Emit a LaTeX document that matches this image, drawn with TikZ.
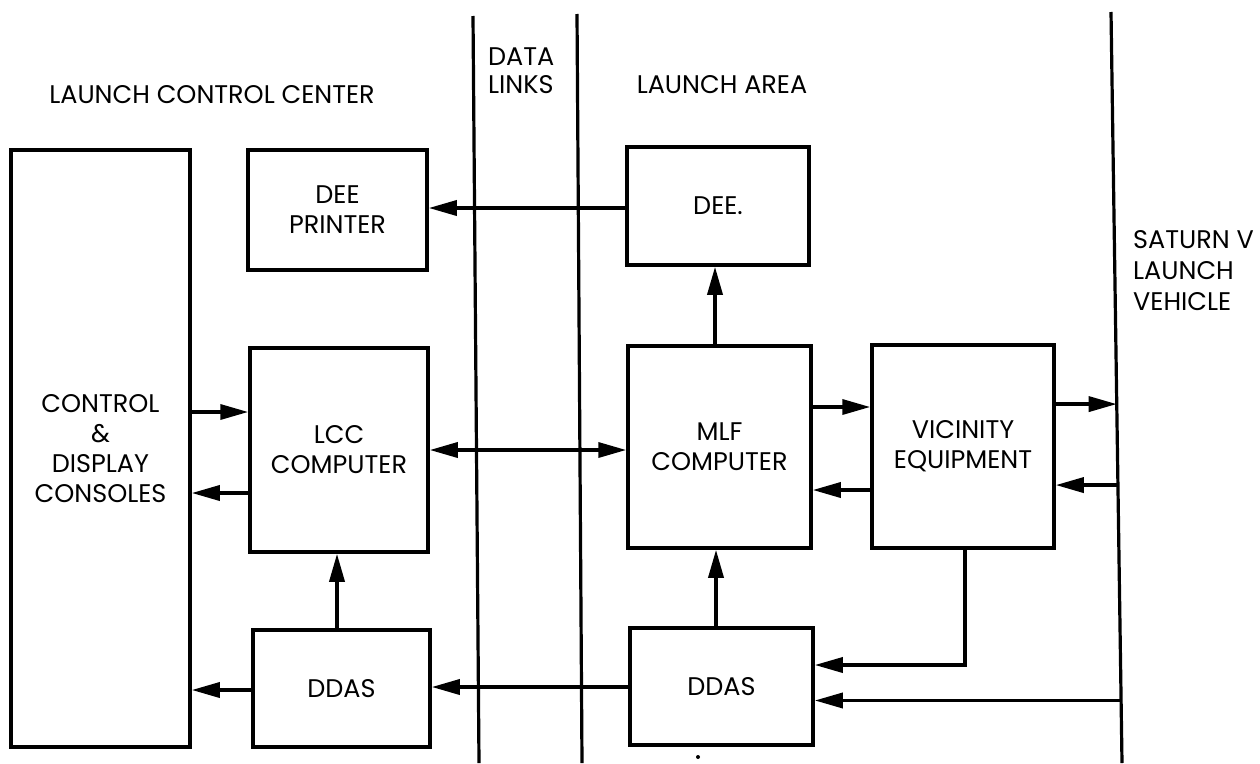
\documentclass[tikz,border=0pt]{standalone}
\usepackage{fontspec}
\setmainfont{Poppins}
\usetikzlibrary{arrows.meta,calc}
\newcommand\lbl{\fontsize{25.5}{30}\selectfont}
\begin{document}
\begin{tikzpicture}[x=1pt,y=-1pt,
  box/.style={draw, line width=3.5pt, rectangle, align=center, inner sep=0pt, font=\lbl},
  lab/.style={inner sep=0pt, align=center, font=\lbl},
  divider/.style={line width=3.2pt},
  tip/.tip={Triangle[length=28pt,width=15pt]},
  arr/.style={line width=3.5pt, -tip},
  biarr/.style={line width=3.5pt, tip-tip}]
\useasboundingbox (0,0) rectangle (1260,763);

% region dividers
\coordinate (d1T) at (473,16);  \coordinate (d1B) at (479,763);
\coordinate (d2T) at (577,14);  \coordinate (d2B) at (582,763);
\coordinate (satT) at (1111,12); \coordinate (satB) at (1122,763);
\draw[divider] (d1T) -- (d1B);
\draw[divider] (d2T) -- (d2B);
\draw[divider] (satT) -- (satB);

% headings
\node[lab] (hlcc) at (212,95) {LAUNCH CONTROL CENTER};
\node[lab, align=left, anchor=west, font=\fontsize{25.5}{28}\selectfont] (hdl) at (488,71) {DATA\\LINKS};
\node[lab] (hla) at (722,85) {LAUNCH AREA};
\node[lab, align=left, anchor=west, font=\fontsize{25.5}{31}\selectfont] (hsat) at (1133,271) {SATURN V\\LAUNCH\\VEHICLE};

% boxes
\node[box, minimum width=179pt, minimum height=597pt] (ctrl) at (100.5,448.5) {CONTROL\\\&\\DISPLAY\\CONSOLES};
\node[box, minimum width=179pt, minimum height=120pt] (deep) at (337.5,210) {DEE\\PRINTER};
\node[box, minimum width=178pt, minimum height=204pt] (lcc) at (339,450) {LCC\\COMPUTER};
\node[box, minimum width=177pt, minimum height=117pt] (ddasL) at (341.5,688.5) {DDAS};
\node[box, minimum width=182pt, minimum height=118pt] (dee) at (718,206) {DEE.};
\node[box, minimum width=183pt, minimum height=202pt] (mlf) at (719.5,447) {MLF\\COMPUTER};
\node[box, minimum width=182pt, minimum height=203pt] (vic) at (963,446.5) {VICINITY\\EQUIPMENT};
\node[box, minimum width=183pt, minimum height=117pt] (ddasR) at (721.5,686.5) {DDAS};

% points on the launch vehicle line
\coordinate (s405) at ($(satT)!(vic.east |- 0,405)!(satB)$);
\coordinate (s486) at ($(satT)!(vic.east |- 0,486)!(satB)$);
\coordinate (s705) at ($(satT)!(ddasR.east |- 0,705)!(satB)$);

% connectors
\draw[arr] (dee.west |- 0,208) -- (deep.east |- 0,208);
\draw[arr] (mlf.north -| 715,0) -- (dee.south -| 715,0);
\draw[arr] (ctrl.east |- 0,412) -- (lcc.west |- 0,412);
\draw[arr] (lcc.west |- 0,493) -- (ctrl.east |- 0,493);
\draw[biarr] (lcc.east |- 0,450) -- (mlf.west |- 0,450);
\draw[arr] (ddasL.north -| 337,0) -- (lcc.south -| 337,0);
\draw[arr] (ddasL.west |- 0,690) -- (ctrl.east |- 0,690);
\draw[arr] (ddasR.west |- 0,687) -- (ddasL.east |- 0,687);
\draw[arr] (mlf.east |- 0,407) -- (vic.west |- 0,407);
\draw[arr] (vic.west |- 0,490) -- (mlf.east |- 0,490);
\draw[arr] (ddasR.north -| 716,0) -- (mlf.south -| 716,0);
\draw[arr] (vic.east |- s405) -- (s405);
\draw[arr] (s486) -- (vic.east |- s486);
\draw[arr] (vic.south -| 965,0) |- (ddasR.east |- 0,665);
\draw[arr] (s705) -- (ddasR.east |- s705);

% small mark below the launch-area DDAS
\fill (698,757) circle (2);
\end{tikzpicture}
\end{document}
